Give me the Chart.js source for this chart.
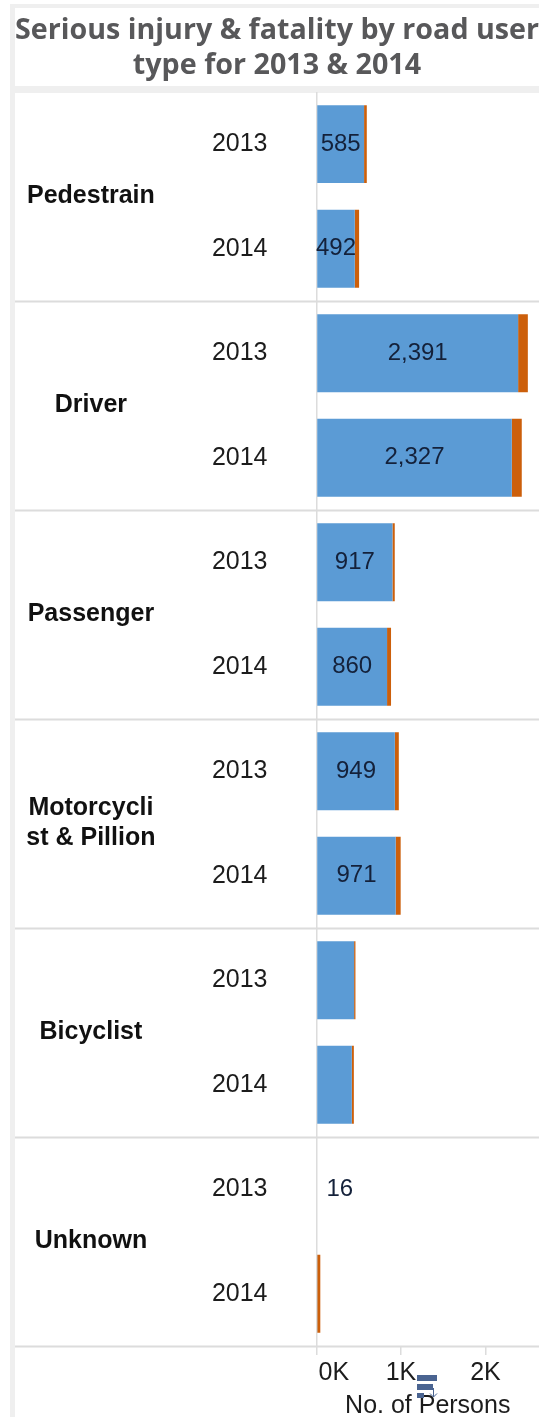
<!DOCTYPE html>
<html>
<head>
<meta charset="utf-8">
<title>Serious injury & fatality by road user type</title>
<script src="https://cdn.jsdelivr.net/npm/chart.js@4/dist/chart.umd.min.js"></script>
<style>
  html, body { margin: 0; padding: 0; background: #fff; }
  canvas { display: block; filter: blur(0.6px); }
</style>
</head>
<body>
<canvas id="road_users" width="539" height="1417"></canvas>
<script>
// Data
const titleLines = ['Serious injury & fatality by road user', 'type for 2013 & 2014'];
const groups = ['Pedestrain', 'Driver', 'Passenger', ['Motorcycli', 'st & Pillion'], 'Bicyclist', 'Unknown'];
const years = ['2013', '2014', '2013', '2014', '2013', '2014', '2013', '2014', '2013', '2014', '2013', '2014'];

// bar lengths as drawn, they stop a bit short of the printed numbers
const blueValues = [563, 453, 2386, 2311, 899, 835, 927, 937, 445, 418, 0, 10];
const orangeValues = [32, 51, 115, 118, 27, 47, 47, 59, 16, 24, 0, 35];
// numbers printed on the bars
const printedLabels = ['585', '492', '2,391', '2,327', '917', '860', '949', '971', '', '', '16', ''];

const xTicks = [0, 1000, 2000];
const xTickLabels = ['     0K', '1K', '2K'];
const xMax = 2633;

const textFont = '"Liberation Sans", Arial, sans-serif';
const stripColor = '#efefef';
const lineColor = '#dcdcdc';

// grey frame behind the white panels
const frame = {
  id: 'frame',
  beforeDraw(chart) {
    const c = chart.ctx;
    c.save();
    c.fillStyle = '#fff';
    c.fillRect(0, 0, 539, 1417);
    c.fillStyle = stripColor;
    c.fillRect(10, 4, 529, 1413);
    c.fillStyle = '#fff';
    c.fillRect(15, 8, 524, 78);
    c.fillRect(15, 93, 524, 1324);
    c.restore();
  }
};

// lines between the road user groups, they run under the label columns too
const separators = {
  id: 'separators',
  beforeDatasetsDraw(chart) {
    const c = chart.ctx;
    const y = chart.scales.y;
    c.save();
    c.strokeStyle = lineColor;
    c.lineWidth = 2;
    for (let i = 2; i <= years.length; i += 2) {
      const py = y.getPixelForValue(i - 1) + (y.getPixelForValue(1) - y.getPixelForValue(0)) / 2 + 0.5;
      c.beginPath();
      c.moveTo(15, py);
      c.lineTo(539, py);
      c.stroke();
    }
    c.restore();
  }
};

// printed numbers, centred on the blue bar or next to it when there is no bar
const barNumbers = {
  id: 'barNumbers',
  afterDatasetsDraw(chart) {
    const c = chart.ctx;
    const bars = chart.getDatasetMeta(0).data;
    c.save();
    c.font = '24px ' + textFont;
    c.fillStyle = '#14213a';
    c.textBaseline = 'middle';
    bars.forEach(function (bar, i) {
      if (!printedLabels[i]) return;
      const width = bar.x - bar.base;
      if (width < 10) {
        c.textAlign = 'left';
        c.fillText(printedLabels[i], bar.x + 10, bar.y);
      } else {
        c.textAlign = 'center';
        c.fillText(printedLabels[i], (bar.x + bar.base) / 2, bar.y);
      }
    });
    c.restore();
  }
};

// little sort icon left in the screenshot over the axis title
const sortIcon = {
  id: 'sortIcon',
  afterDraw(chart) {
    const c = chart.ctx;
    c.save();
    c.fillStyle = '#4a6491';
    c.fillRect(417, 1375, 20, 6);
    c.fillRect(417, 1384, 16, 6);
    c.fillRect(417, 1393, 7, 5);
    c.strokeStyle = '#4a6491';
    c.lineWidth = 1;
    c.beginPath();
    c.moveTo(433.5, 1388);
    c.lineTo(433.5, 1397);
    c.moveTo(430, 1393.5);
    c.lineTo(433.5, 1397);
    c.lineTo(437, 1393.5);
    c.stroke();
    c.restore();
  }
};

new Chart(document.getElementById('road_users'), {
  type: 'bar',
  data: {
    labels: years.map(function (year, i) { return i; }),
    datasets: [
      { label: 'Blue', data: blueValues, backgroundColor: '#5b9bd5', barPercentage: 0.746, categoryPercentage: 1 },
      { label: 'Orange', data: orangeValues, backgroundColor: '#cc5f0b', barPercentage: 0.746, categoryPercentage: 1 }
    ]
  },
  options: {
    indexAxis: 'y',
    responsive: false,
    animation: false,
    layout: { padding: { left: 15, right: 0, top: 0, bottom: 0 } },
    plugins: {
      legend: { display: false },
      tooltip: { enabled: false },
      title: {
        display: true,
        text: titleLines,
        color: '#58585a',
        font: { family: '"Open Sans", sans-serif', size: 28.7, weight: 'bold', lineHeight: 1.2 },
        padding: { top: 14, bottom: 9 }
      }
    },
    scales: {
      x: {
        type: 'linear',
        stacked: true,
        min: 0,
        max: xMax,
        afterBuildTicks(scale) { scale.ticks = xTicks.map(function (v) { return { value: v }; }); },
        afterFit(scale) { scale.height = 71; },
        grid: {
          color: function (ctx) { return ctx.tick && ctx.tick.value === 0 ? lineColor : 'transparent'; },
          tickColor: lineColor,
          tickLength: 9,
          lineWidth: 1.5
        },
        border: { display: false },
        ticks: {
          color: '#1c1c1c',
          font: { family: textFont, size: 25 },
          padding: 3,
          maxRotation: 0,
          callback: function (value) { return xTickLabels[xTicks.indexOf(value)]; }
        },
        title: {
          display: true,
          text: 'No. of Persons',
          color: '#1c1c1c',
          font: { family: textFont, size: 25 },
          padding: { top: 0, bottom: -4 }
        }
      },
      y: {
        type: 'category',
        stacked: true,
        position: 'left',
        weight: 0,
        afterFit(scale) { scale.width = 147.5; },
        grid: { display: false },
        border: { display: false },
        ticks: {
          color: '#1c1c1c',
          font: { family: textFont, size: 25 },
          padding: 41,
          autoSkip: false,
          callback: function (value, i) { return years[i]; }
        }
      },
      y2: {
        type: 'category',
        labels: groups,
        position: 'left',
        weight: 1,
        offset: true,
        afterFit(scale) { scale.width = 154; },
        grid: { display: false },
        border: { display: false },
        ticks: {
          color: '#111',
          crossAlign: 'center',
          font: { family: textFont, size: 25, weight: 'bold', lineHeight: 1.2 },
          padding: 5.5,
          autoSkip: false
        }
      }
    }
  },
  plugins: [frame, separators, barNumbers, sortIcon]
});
</script>
</body>
</html>
